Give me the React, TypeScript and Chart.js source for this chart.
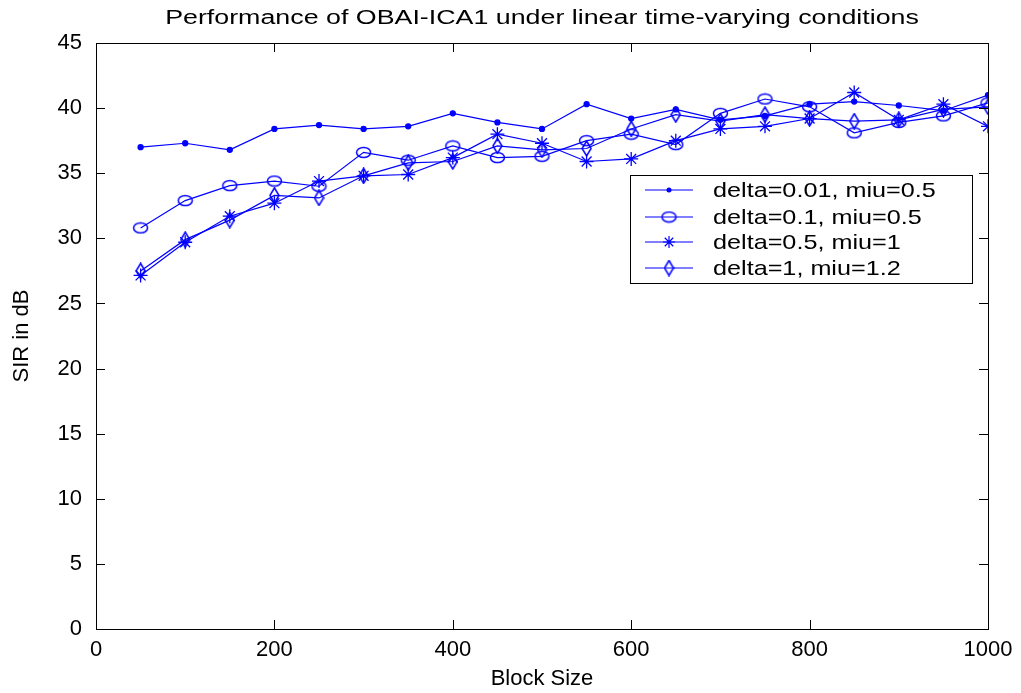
import React, { useEffect, useRef } from "react";
import { Chart, registerables } from "chart.js";

Chart.register(...registerables);

// ---------- data ----------
const blockSizes = [50, 100, 150, 200, 250, 300, 350, 400, 450, 500, 550, 600, 650, 700, 750, 800, 850, 900, 950, 1000];
const sirDelta001Miu05 = [37.0, 37.3, 36.8, 38.4, 38.7, 38.4, 38.6, 39.6, 38.9, 38.4, 40.3, 39.2, 39.9, 39.1, 39.4, 40.3, 40.5, 40.2, 39.8, 41.0];
const sirDelta01Miu05 = [30.8, 32.9, 34.05, 34.4, 34.0, 36.6, 36.0, 37.1, 36.2, 36.3, 37.5, 38.0, 37.2, 39.6, 40.7, 40.1, 38.1, 38.9, 39.4, 40.4];
const sirDelta05Miu1 = [27.15, 29.7, 31.7, 32.7, 34.4, 34.8, 34.9, 36.2, 38.0, 37.3, 35.9, 36.1, 37.5, 38.4, 38.6, 39.2, 41.2, 39.1, 40.3, 38.6];
const sirDelta1Miu12 = [27.5, 29.9, 31.4, 33.3, 33.1, 34.8, 35.8, 35.9, 37.1, 36.8, 36.9, 38.4, 39.5, 39.0, 39.5, 39.2, 39.0, 39.1, 39.9, 40.1];
const seriesLabels = ["delta=0.01, miu=0.5", "delta=0.1, miu=0.5", "delta=0.5, miu=1", "delta=1, miu=1.2"];
const xTickValues = [0, 200, 400, 600, 800, 1000];
const yTickValues = [0, 5, 10, 15, 20, 25, 30, 35, 40, 45];
const chartTitle = "Performance of OBAI-ICA1 under linear time-varying conditions";
const xAxisTitle = "Block Size";
const yAxisTitle = "SIR in dB";

// ---------- style ----------
const BLUE = "#0000ff";
const FONT = "'Liberation Sans', Arial, Helvetica, sans-serif";
const LEGEND_STRETCH = 1.2;
const TITLE_STRETCH = 1.34;

function makeEllipse(): HTMLCanvasElement {
  const c = document.createElement("canvas");
  c.width = 17; c.height = 13;
  const g = c.getContext("2d")!;
  g.strokeStyle = BLUE; g.lineWidth = 1.5;
  g.beginPath(); g.ellipse(8.5, 6.5, 7, 5, 0, 0, Math.PI * 2); g.stroke();
  return c;
}
function makeDiamond(): HTMLCanvasElement {
  const c = document.createElement("canvas");
  c.width = 11; c.height = 17;
  const g = c.getContext("2d")!;
  g.strokeStyle = BLUE; g.lineWidth = 1.5;
  g.beginPath(); g.moveTo(5.5, 1); g.lineTo(10, 8.5); g.lineTo(5.5, 16); g.lineTo(1, 8.5); g.closePath(); g.stroke();
  return c;
}

function drawStretched(ctx: CanvasRenderingContext2D, text: string, x: number, y: number, align: "left" | "center", sx: number) {
  ctx.save();
  ctx.translate(x, y);
  ctx.scale(sx, 1);
  ctx.textAlign = align;
  ctx.fillText(text, 0, 0);
  ctx.restore();
}

export default function App() {
  const ref = useRef<HTMLCanvasElement | null>(null);
  useEffect(() => {
    if (!ref.current) return;
    const ellipse = makeEllipse();
    const diamond = makeDiamond();
    const pointStyles: any[] = ["circle", ellipse, "star", diamond];
    const pointRadii = [2.5, 6, 7, 6];

    const framePlugin = {
      id: "frame",
      afterDatasetsDraw(chart: any) {
        const { ctx, chartArea: a, scales } = chart;
        ctx.save();
        ctx.strokeStyle = "#000";
        ctx.lineWidth = 1;
        ctx.strokeRect(Math.round(a.left) + 0.5, Math.round(a.top) + 0.5, Math.round(a.right - a.left), Math.round(a.bottom - a.top));
        const tl = 9;
        ctx.beginPath();
        for (const v of xTickValues) {
          const px = Math.round(scales.x.getPixelForValue(v)) + 0.5;
          ctx.moveTo(px, a.bottom); ctx.lineTo(px, a.bottom - tl);
          ctx.moveTo(px, a.top); ctx.lineTo(px, a.top + tl);
        }
        for (const v of yTickValues) {
          const py = Math.round(scales.y.getPixelForValue(v)) + 0.5;
          ctx.moveTo(a.left, py); ctx.lineTo(a.left + tl, py);
          ctx.moveTo(a.right, py); ctx.lineTo(a.right - tl, py);
        }
        ctx.stroke();

        // title
        ctx.fillStyle = "#000";
        ctx.font = `20px ${FONT}`;
        ctx.textBaseline = "middle";
        drawStretched(ctx, chartTitle, (a.left + a.right) / 2, 18, "center", TITLE_STRETCH);

        // legend
        const lx = a.left + 534, ly = a.top + 132, lw = 342, lh = 108;
        ctx.fillStyle = "#fff";
        ctx.fillRect(lx, ly, lw, lh);
        ctx.strokeStyle = "#000";
        ctx.strokeRect(Math.round(lx) + 0.5, Math.round(ly) + 0.5, lw, lh);
        const rowY = [15, 42, 67, 93];
        chart.data.datasets.forEach((ds: any, i: number) => {
          const y = ly + rowY[i];
          ctx.strokeStyle = BLUE; ctx.lineWidth = 1.2;
          ctx.beginPath(); ctx.moveTo(lx + 15, y); ctx.lineTo(lx + 63, y); ctx.stroke();
          const cx = lx + 39;
          const ps = ds.pointStyle;
          if (typeof ps === "string") {
            if (ps === "circle") {
              ctx.fillStyle = BLUE; ctx.beginPath(); ctx.arc(cx, y, 2.5, 0, Math.PI * 2); ctx.fill();
            } else if (ps === "star") {
              ctx.beginPath();
              const r = 6;
              for (let k = 0; k < 4; k++) {
                const ang = (k * Math.PI) / 4;
                ctx.moveTo(cx - r * Math.cos(ang), y - r * Math.sin(ang));
                ctx.lineTo(cx + r * Math.cos(ang), y + r * Math.sin(ang));
              }
              ctx.stroke();
            }
          } else {
            ctx.drawImage(ps, cx - ps.width / 2, y - ps.height / 2);
          }
          ctx.fillStyle = "#000";
          ctx.font = `21px ${FONT}`;
          ctx.textBaseline = "middle";
          drawStretched(ctx, seriesLabels[i], lx + 83, y + 1, "left", LEGEND_STRETCH);
        });
        ctx.restore();
      },
    };

    const seriesValues = [sirDelta001Miu05, sirDelta01Miu05, sirDelta05Miu1, sirDelta1Miu12];
    const chart = new Chart(ref.current, {
      type: "line",
      data: {
        labels: blockSizes,
        datasets: seriesValues.map((vals, i) => ({
          label: seriesLabels[i],
          data: blockSizes.map((x, j) => ({ x, y: vals[j] })),
          borderColor: BLUE,
          backgroundColor: i === 0 ? BLUE : "rgba(0,0,0,0)",
          pointBorderColor: BLUE,
          pointBackgroundColor: i === 0 ? BLUE : "rgba(0,0,0,0)",
          borderWidth: 1.2,
          pointStyle: pointStyles[i],
          pointRadius: pointRadii[i],
          pointBorderWidth: 1.3,
          tension: 0,
          fill: false,
        })),
      },
      options: {
        animation: false,
        responsive: false,
        layout: { padding: { top: 43, right: 33, left: 0, bottom: 0 } },
        plugins: { legend: { display: false }, title: { display: false }, tooltip: { enabled: false } },
        scales: {
          x: {
            type: "linear",
            min: 0,
            max: 1000,
            afterFit: (s: any) => { s.height = 64; },
            afterBuildTicks: (s: any) => { s.ticks = xTickValues.map((v) => ({ value: v })); },
            grid: { display: false, drawTicks: false },
            border: { display: false },
            ticks: { color: "#000", font: { family: FONT, size: 22 }, padding: 8, maxRotation: 0, callback: (v: any) => String(v) },
            title: { display: true, text: xAxisTitle, color: "#000", font: { family: FONT, size: 22 }, padding: { top: 0, bottom: 1 } },
          },
          y: {
            type: "linear",
            min: 0,
            max: 45,
            afterFit: (s: any) => { s.width = 96; },
            afterBuildTicks: (s: any) => { s.ticks = yTickValues.map((v) => ({ value: v })); },
            grid: { display: false, drawTicks: false },
            border: { display: false },
            ticks: { color: "#000", font: { family: FONT, size: 22 }, padding: 14, callback: (v: any) => String(v) },
            title: { display: true, text: yAxisTitle, color: "#000", font: { family: FONT, size: 22 }, padding: { top: 9, bottom: 0 } },
          },
        },
      },
      plugins: [framePlugin],
    });
    return () => chart.destroy();
  }, []);

  return (
    <div style={{ position: "absolute", left: 0, top: 0, width: 1021, height: 693, background: "#fff" }}>
      <canvas ref={ref} width={1021} height={693} />
    </div>
  );
}
